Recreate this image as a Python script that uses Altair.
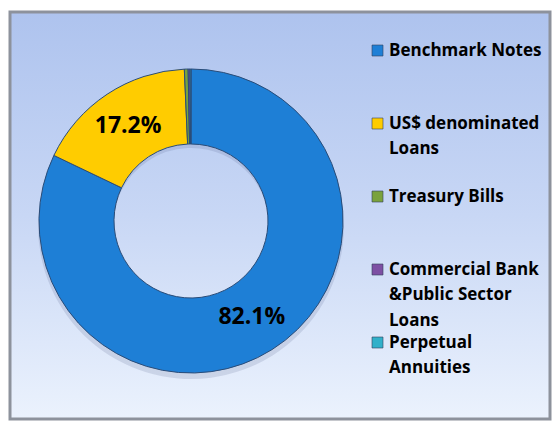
import altair as alt
import pandas as pd

# ---- data ----
categories = [
    "Benchmark Notes",
    "US$ denominated Loans",
    "Treasury Bills",
    "Commercial Bank &Public Sector Loans",
    "Perpetual Annuities",
]
legend_lines = [
    "Benchmark Notes",
    "US$ denominated\nLoans",
    "Treasury Bills",
    "Commercial Bank\n&Public Sector\nLoans",
    "Perpetual\nAnnuities",
]
shares = [82.1, 17.2, 0.4, 0.2, 0.1]
slice_labels = ["82.1%", "17.2%", "", "", ""]
colors = ["#1e7fd6", "#ffcc00", "#7aa23c", "#7d4fa3", "#31b0c9"]

df = pd.DataFrame({
    "idx": list(range(len(categories))),
    "category": categories,
    "legend": legend_lines,
    "share": shares,
    "label": slice_labels,
})

W, H = 540, 407
CX, CY = 181, 209
FONT = "Open Sans"

bg = alt.Chart(pd.DataFrame({"panel": [0]})).mark_rect(
    color=alt.LinearGradient(
        gradient="linear", x1=0, y1=0, x2=0, y2=1,
        stops=[
            alt.GradientStop(offset=0, color="#aec3ee"),
            alt.GradientStop(offset=0.5, color="#c8d7f5"),
            alt.GradientStop(offset=1, color="#ebf2fd"),
        ],
    ),
    stroke="#8d929c", strokeWidth=3, opacity=1,
).encode(x=alt.value(0), x2=alt.value("width"), y=alt.value(0), y2=alt.value("height"))

base = alt.Chart(df)
color = alt.Color("category:N", scale=alt.Scale(domain=categories, range=colors), legend=None)
theta = alt.Theta("share:Q", stack=True)
order = alt.Order("idx:Q")

shadow = base.mark_arc(innerRadius=78, outerRadius=153, color="#4a5a80", opacity=0.16).encode(
    theta=theta, order=order, x=alt.value(CX), y=alt.value(CY + 5)
)

arcs = base.mark_arc(innerRadius=77, outerRadius=152, stroke="#2a4c78", strokeWidth=1).encode(
    theta=theta, order=order, color=color, x=alt.value(CX), y=alt.value(CY)
)

labels = base.mark_text(radius=114, font=FONT, fontSize=23, fontWeight="bold", color="black").encode(
    theta=theta, order=order, text="label:N", x=alt.value(CX), y=alt.value(CY)
)

yleg = alt.Y("idx:Q", scale=alt.Scale(domain=[0, 4], range=[38.5, 330.5]), axis=None)

leg_sq = base.mark_square(size=121, stroke="#34405a", strokeWidth=0.6, opacity=1).encode(
    x=alt.value(367.5), y=yleg, color=color
)

leg_text = base.mark_text(
    align="left", baseline="top", dy=-8, font=FONT, fontSize=17, fontWeight="bold",
    lineBreak="\n", lineHeight=25.5, color="black"
).encode(x=alt.value(379), y=yleg, text="legend:N")

chart = alt.layer(bg, shadow, arcs, labels, leg_sq, leg_text).properties(
    width=W, height=H, autosize="none",
    padding={"left": 2, "top": 4, "right": 2, "bottom": 2},
    background="white",
).configure_view(stroke=None)

chart.save("out.html", embed_options={"renderer": "svg", "actions": False})
